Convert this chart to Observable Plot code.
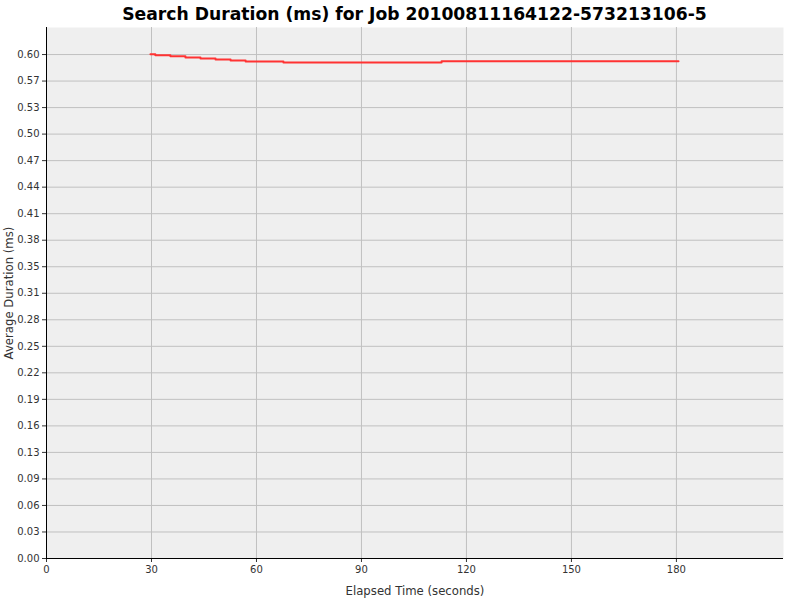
<!DOCTYPE html>
<html><head><meta charset="utf-8">
<script src="https://cdn.jsdelivr.net/npm/d3@7"></script>
<script src="https://cdn.jsdelivr.net/npm/@observablehq/plot@0.6"></script>
<style>
body{margin:0;background:#fff;width:800px;height:600px;overflow:hidden;}
#title{box-sizing:border-box;width:800px;height:27px;padding:0 17px 0 46px;text-align:center;font:bold 17.2px "DejaVu Sans",sans-serif;line-height:28px;color:#000;white-space:nowrap;}
#chart svg{display:block;}
</style>
</head><body>
<div id="title">Search Duration (ms) for Job 20100811164122-573213106-5</div>
<div id="chart"></div>
<script>
const elapsed = [29.7, 31.1, 35.4, 39.7, 44.0, 48.3, 52.6, 56.9, 67.7, 112.9, 180.6];
const duration = [0.5968, 0.5958, 0.5946, 0.5930, 0.5918, 0.5907, 0.5895, 0.5883, 0.5871, 0.5887, 0.5887];
const xTicks = [0, 30, 60, 90, 120, 150, 180];
const yTicks = [0, 0.0314, 0.0628, 0.0942, 0.1256, 0.157, 0.1884, 0.2198, 0.2512, 0.2826, 0.314, 0.3454, 0.3768, 0.4082, 0.4396, 0.471, 0.5024, 0.5338, 0.5652, 0.5966];

const data = elapsed.map((t, i) => ({t, v: duration[i]}));

const chart = Plot.plot({
  width: 800,
  height: 573,
  marginLeft: 46,
  marginRight: 17,
  marginTop: 0,
  marginBottom: 42,
  style: {fontFamily: "DejaVu Sans, sans-serif", fontSize: "10px", color: "#333", background: "#fff"},
  x: {domain: [0, 210.6]},
  y: {domain: [0, 0.6286]},
  marks: [
    Plot.frame({fill: "#efefef", stroke: "none"}),
    Plot.gridX(xTicks.slice(1), {stroke: "#c0c0c0", strokeOpacity: 1}),
    Plot.gridY(yTicks.slice(1), {stroke: "#c0c0c0", strokeOpacity: 1}),
    Plot.axisX(xTicks, {tickSize: 4, tickPadding: 3, tickFormat: d => String(d), label: null, fontSize: 10, fill: "#333"}),
    Plot.axisY(yTicks, {tickSize: 4, tickPadding: 3, tickFormat: d3.format(".2f"), label: null, fontSize: 10, fill: "#333"}),
    Plot.axisX({ticks: [], tickSize: 0, label: "Elapsed Time (seconds)", labelAnchor: "center", labelArrow: "none", labelOffset: 36, fontSize: 11.7, fill: "#333"}),
    Plot.axisY({ticks: [], tickSize: 0, label: "Average Duration (ms)", labelAnchor: "center", labelArrow: "none", labelOffset: 42, fontSize: 11.7, fill: "#333"}),
    Plot.ruleX([0], {stroke: "#000"}),
    Plot.ruleY([0], {stroke: "#000"}),
    Plot.line(data, {x: "t", y: "v", curve: "step-after", stroke: "#ff3333", strokeWidth: 2})
  ]
});
document.getElementById("chart").appendChild(chart);
</script>
</body></html>
